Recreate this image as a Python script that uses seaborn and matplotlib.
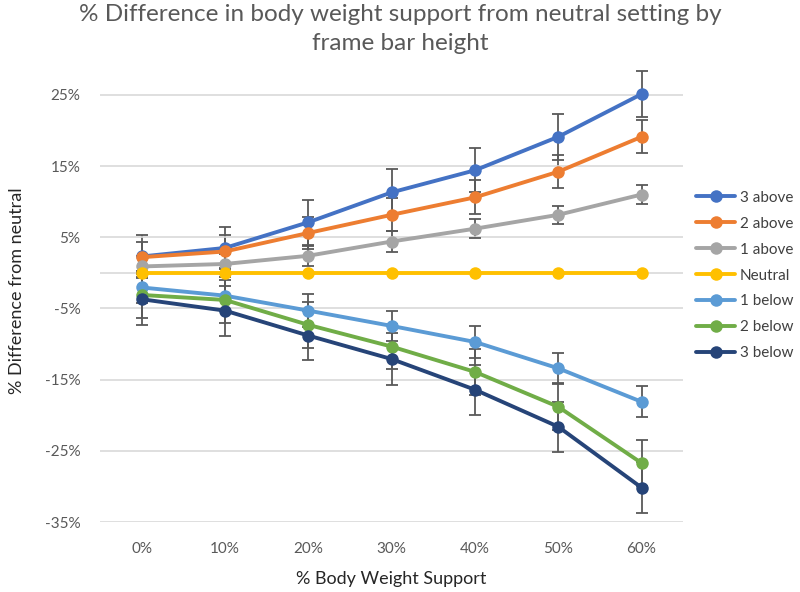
import pandas as pd
import numpy as np
import matplotlib
matplotlib.use('Agg')
import matplotlib.pyplot as plt
import seaborn as sns

# data (values in %)
bws = [0, 10, 20, 30, 40, 50, 60]
tick_labels = ['0%', '10%', '20%', '30%', '40%', '50%', '60%']
settings = ['3 above', '2 above', '1 above', 'Neutral', '1 below', '2 below', '3 below']

above3 = [2.3, 3.5, 7.1, 11.3, 14.4, 19.1, 25.1]
above2 = [2.2, 3.0, 5.6, 8.15, 10.6, 14.2, 19.1]
above1 = [0.9, 1.25, 2.4, 4.4, 6.2, 8.15, 11.0]
neutral = [0, 0, 0, 0, 0, 0, 0]
below1 = [-2.05, -3.2, -5.3, -7.45, -9.7, -13.4, -18.1]
below2 = [-3.1, -3.8, -7.3, -10.35, -13.9, -18.8, -26.7]
below3 = [-3.7, -5.3, -8.8, -12.1, -16.4, -21.6, -30.15]

err_above3 = [3.0, 3.0, 3.15, 3.3, 3.1, 3.2, 3.2]
err_above2 = [2.2, 2.3, 2.3, 2.3, 2.4, 2.3, 2.3]
err_above1 = [1.5, 1.4, 1.4, 1.5, 1.3, 1.3, 1.4]
err_neutral = [0, 0, 0, 0, 0, 0, 0]
err_below1 = [2.2, 2.2, 2.3, 2.1, 2.2, 2.1, 2.15]
err_below2 = [3.3, 3.2, 3.2, 3.2, 3.2, 3.2, 3.2]
err_below3 = [3.6, 3.5, 3.5, 3.6, 3.5, 3.5, 3.6]

colors = ['#4472C4', '#ED7D31', '#A5A5A5', '#FFC000', '#5B9BD5', '#70AD47', '#264478']

values = [above3, above2, above1, neutral, below1, below2, below3]
errors = [err_above3, err_above2, err_above1, err_neutral, err_below1, err_below2, err_below3]

rows = []
for s, vals in zip(settings, values):
    for x, v in zip(bws, vals):
        rows.append({'bws': x, 'diff': v, 'setting': s})
df = pd.DataFrame(rows)

sns.set_style('white')
plt.rcParams['font.family'] = ['Lato', 'DejaVu Sans']

fig = plt.figure(figsize=(8, 5.92), dpi=100)
ax = fig.add_axes([0.125, 0.118, 0.729, 0.782])

# gridlines and zero axis line
for g in [-35, -25, -15, -5, 5, 15, 25]:
    ax.axhline(g, color='#D9D9D9', lw=1.2, zorder=0)
ax.axhline(0, color='#D9D9D9', lw=1.2, zorder=0)

# error bars first, then lines on top (3 below drawn last)
for i, (vals, errs) in enumerate(zip(values, errors)):
    if max(errs) > 0:
        ax.errorbar(bws, vals, yerr=errs, fmt='none', ecolor='#595959',
                    elinewidth=1.3, capsize=4, capthick=1.3, zorder=2 + i)

sns.lineplot(data=df, x='bws', y='diff', hue='setting', hue_order=settings,
             palette=colors, marker='o', markersize=9, markeredgewidth=0,
             linewidth=2.8, ax=ax, zorder=3)

# put lines in Excel drawing order
for i, line in enumerate(ax.lines):
    line.set_zorder(3 + i)

ax.set_xlim(-5, 65)
ax.set_ylim(-35, 30)
ax.set_xticks(bws)
ax.set_xticklabels(tick_labels)
ax.set_yticks([-35, -25, -15, -5, 5, 15, 25])
ax.set_yticklabels(['-35%', '-25%', '-15%', '-5%', '5%', '15%', '25%'])
ax.tick_params(axis='both', length=0, labelsize=11, labelcolor='#595959', pad=14)
for sp in ax.spines.values():
    sp.set_visible(False)

ax.set_xlabel('% Body Weight Support', fontsize=13, color='#262626', labelpad=11)
ax.set_ylabel('% Difference from neutral', fontsize=13, color='#262626', labelpad=14)

fig.suptitle('% Difference in body weight support from neutral setting by\nframe bar height',
             fontsize=17.5, color='#595959', y=0.993, linespacing=1.45)

handles, labels = ax.get_legend_handles_labels()
ax.legend().remove()
fig.legend(handles, labels, loc='upper left', bbox_to_anchor=(0.862, 0.688),
           frameon=False, fontsize=11, labelcolor='#404040', handlelength=2.6,
           handletextpad=0.3, labelspacing=0.78, borderaxespad=0)

fig.savefig('out.png', dpi=100, facecolor='white')
